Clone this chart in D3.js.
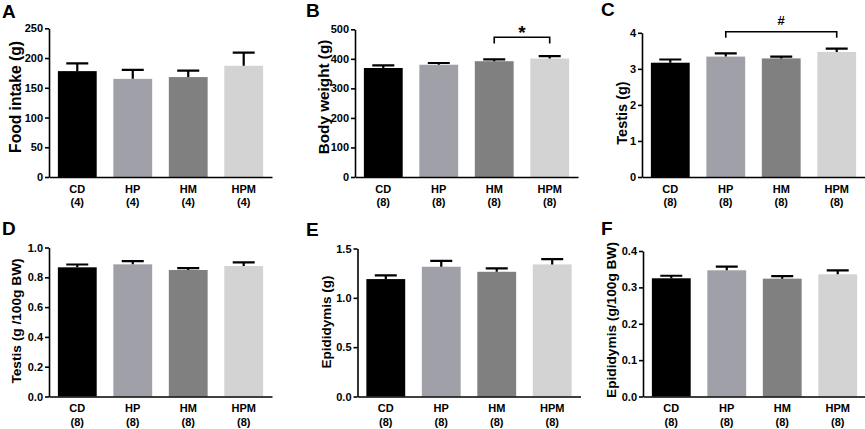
<!DOCTYPE html>
<html lang="en">
<head>
<meta charset="utf-8">
<title>Food intake and organ weights</title>
<script src="https://d3js.org/d3.v7.min.js"></script>
<style>
  body { margin: 0; background: #fff; }
  svg { display: block; font-family: "Liberation Sans", Arial, sans-serif; font-weight: bold; }
</style>
</head>
<body>
<div id="chart"></div>
<script>
// groups and colours
const groups = ["CD", "HP", "HM", "HPM"];
const colors = ["#000000", "#a0a0a8", "#808080", "#d3d3d3"];
const nFood = ["(4)", "(4)", "(4)", "(4)"];
const nOther = ["(8)", "(8)", "(8)", "(8)"];

// values (mean, SEM)
const foodIntake = [178, 165, 168, 187];
const foodIntakeErr = [13, 15, 11, 22];
const bodyWeight = [369, 380, 392, 401];
const bodyWeightErr = [9, 6, 6, 8];
const testis = [3.17, 3.34, 3.29, 3.47];
const testisErr = [0.09, 0.09, 0.05, 0.09];
const testisBW = [0.867, 0.887, 0.849, 0.876];
const testisBWErr = [0.019, 0.021, 0.012, 0.024];
const epididymis = [1.19, 1.315, 1.264, 1.339];
const epididymisErr = [0.037, 0.06, 0.034, 0.053];
const epididymisBW = [0.325, 0.347, 0.324, 0.336];
const epididymisBWErr = [0.007, 0.010, 0.007, 0.011];

// tick values
const ticksFood = [0, 50, 100, 150, 200, 250];
const ticksBody = [0, 100, 200, 300, 400, 500];
const ticksTestis = [0, 1, 2, 3, 4];
const ticksTestisBW = [0, 0.2, 0.4, 0.6, 0.8, 1.0];
const ticksEpi = [0, 0.5, 1.0, 1.5];
const ticksEpiBW = [0, 0.1, 0.2, 0.3, 0.4];

const width = 865, height = 429;
const plotW = 223;

const svg = d3.select("#chart").append("svg")
    .attr("width", width)
    .attr("height", height);

const panels = [
    {letter: "A", lx: 2, ly: 18, left: 49, top: 28.3, bottom: 177, title: "Food intake (g)", tx: 15, ty: 97, ts: 15.6,
     values: foodIntake, err: foodIntakeErr, ticks: ticksFood, fmt: d3.format("d"), n: nFood},
    {letter: "B", lx: 306, ly: 17, left: 355, top: 29.3, bottom: 177, title: "Body weight (g)", tx: 323, ty: 97, ts: 15.3,
     values: bodyWeight, err: bodyWeightErr, ticks: ticksBody, fmt: d3.format("d"), n: nOther,
     sig: {from: "HM", to: "HPM", label: "*", top: 473, drop: 452, size: 19, dy: 38.5}},
    {letter: "C", lx: 601, ly: 16, left: 642, top: 32.8, bottom: 177, title: "Testis (g)", tx: 622, ty: 113, ts: 14.5,
     values: testis, err: testisErr, ticks: ticksTestis, fmt: d3.format("d"), n: nOther,
     sig: {from: "HP", to: "HPM", label: "#", top: 4.03, drop: 3.86, size: 13, dy: 24.5}},
    {letter: "D", lx: 2, ly: 235, left: 49, top: 247.5, bottom: 396.5, title: "Testis (g /100g BW)", tx: 16, ty: 321, ts: 13.7,
     values: testisBW, err: testisBWErr, ticks: ticksTestisBW, fmt: d3.format(".1f"), n: nOther},
    {letter: "E", lx: 306, ly: 236, left: 357.5, top: 248.5, bottom: 396.5, title: "Epididymis (g)", tx: 326, ty: 322, ts: 13.5,
     values: epididymis, err: epididymisErr, ticks: ticksEpi, fmt: d3.format(".1f"), n: nOther},
    {letter: "F", lx: 601, ly: 235, left: 643, top: 251, bottom: 396.5, title: "Epididymis (g/100g BW)", tx: 611, ty: 320, ts: 13.7,
     values: epididymisBW, err: epididymisBWErr, ticks: ticksEpiBW, fmt: d3.format(".1f"), n: nOther}
];

panels.forEach(drawPanel);

function drawPanel(p) {
    const g = svg.append("g");
    const ymax = p.ticks[p.ticks.length - 1];

    const x = d3.scaleBand()
        .domain(groups)
        .range([p.left, p.left + plotW])
        .paddingInner(0.3)
        .paddingOuter(0.16);
    const y = d3.scaleLinear()
        .domain([0, ymax])
        .range([p.bottom, p.top]);

    // bars
    g.selectAll("rect")
        .data(groups)
        .join("rect")
            .attr("x", d => x(d))
            .attr("y", (d, i) => y(p.values[i]))
            .attr("width", x.bandwidth())
            .attr("height", (d, i) => y(0) - y(p.values[i]))
            .attr("fill", (d, i) => colors[i]);

    // error bars, upper half only
    const cx = d => x(d) + x.bandwidth() / 2;
    const capHalf = 11;
    g.selectAll("path.err")
        .data(groups)
        .join("path")
            .attr("class", "err")
            .attr("d", (d, i) => {
                const yTop = y(p.values[i] + p.err[i]);
                return `M${cx(d)},${y(p.values[i])}V${yTop}M${cx(d) - capHalf},${yTop}H${cx(d) + capHalf}`;
            })
            .attr("fill", "none")
            .attr("stroke", "#000")
            .attr("stroke-width", 2.2);

    // x axis with two-line labels
    const xAxis = g.append("g")
        .attr("transform", `translate(0,${p.bottom})`)
        .call(d3.axisBottom(x).tickSize(0).tickSizeOuter(0).tickPadding(8));
    xAxis.selectAll(".tick text").each(function(d, i) {
        const t = d3.select(this);
        t.text(null);
        t.append("tspan").attr("x", 0).text(d);
        t.append("tspan").attr("x", 0).attr("dy", 13.5).text(p.n[i]);
    });
    styleAxis(xAxis);

    // y axis
    const yAxis = g.append("g")
        .attr("transform", `translate(${p.left},0)`)
        .call(d3.axisLeft(y).tickValues(p.ticks).tickFormat(p.fmt).tickSize(4).tickSizeOuter(0).tickPadding(2));
    styleAxis(yAxis);

    // y title
    g.append("text")
        .attr("transform", `translate(${p.tx},${p.ty}) rotate(-90)`)
        .attr("text-anchor", "middle")
        .attr("dominant-baseline", "central")
        .attr("font-size", p.ts)
        .text(p.title);

    // panel letter
    g.append("text")
        .attr("x", p.lx)
        .attr("y", p.ly)
        .attr("font-size", 19)
        .text(p.letter);

    // significance bracket
    if (p.sig) {
        const s = p.sig;
        const x1 = cx(s.from), x2 = cx(s.to);
        g.append("path")
            .attr("d", `M${x1},${y(s.drop)}V${y(s.top)}H${x2}V${y(s.drop)}`)
            .attr("fill", "none")
            .attr("stroke", "#000")
            .attr("stroke-width", 1.6);
        g.append("text")
            .attr("x", (x1 + x2) / 2)
            .attr("y", s.dy)
            .attr("text-anchor", "middle")
            .attr("font-size", s.size)
            .text(s.label);
    }
}

function styleAxis(a) {
    a.attr("font-family", null).attr("font-size", null);
    a.select(".domain").attr("stroke", "#000").attr("stroke-width", 1.6);
    a.selectAll(".tick line").attr("stroke", "#000").attr("stroke-width", 1.6);
    a.selectAll(".tick text").attr("fill", "#000").attr("font-size", 11);
}
</script>
</body>
</html>
